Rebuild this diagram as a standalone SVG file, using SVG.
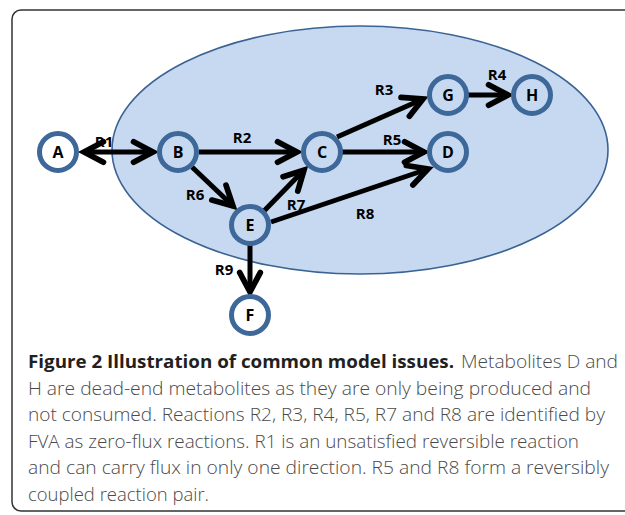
<svg xmlns="http://www.w3.org/2000/svg" width="625" height="515" viewBox="0 0 625 515">
<defs>
<style>
.node circle{stroke:#3d6899;stroke-width:5}
.in circle{fill:#c6d9f0}
.out circle{fill:#ffffff}
.node text{font-family:"Open Sans","Liberation Sans",sans-serif;font-weight:bold;font-size:16px;fill:#000;text-anchor:middle}
.edge{stroke:#000;stroke-width:5;fill:none}
.lbl{font-family:"Open Sans","Liberation Sans",sans-serif;font-weight:bold;font-size:15px;fill:#000;text-anchor:middle}
.cap{font-family:"Open Sans","Liberation Sans",sans-serif;font-size:18px;font-weight:300;fill:#4a4a4a}
.capb{font-family:"Open Sans","Liberation Sans",sans-serif;font-size:18px;font-weight:bold;fill:#231f20}
</style>
<marker id="arr" markerUnits="userSpaceOnUse" orient="auto-start-reverse" refX="0" refY="0" markerWidth="40" markerHeight="40" viewBox="-25 -15 35 30" overflow="visible">
<path d="M -17 -9 L 0 0 L -17 9" fill="none" stroke="#000" stroke-width="5" stroke-linecap="round" stroke-linejoin="miter"/>
</marker>
</defs>
<rect x="12" y="10" width="640" height="501" rx="9" ry="9" fill="#fff" stroke="#333" stroke-width="1.5"/>
<ellipse id="compartment" cx="360" cy="150" rx="248" ry="124" fill="#c6d9f0" stroke="#3a6394" stroke-width="1.6"/>
<g id="connectors">
<line class="edge" x1="84" y1="152" x2="153" y2="152" marker-start="url(#arr)" marker-end="url(#arr)"/>
<line class="edge" x1="199" y1="152" x2="297" y2="152" marker-end="url(#arr)"/>
<line class="edge" x1="192" y1="167" x2="233" y2="206" marker-end="url(#arr)"/>
<line class="edge" x1="264" y1="211" x2="304" y2="170" marker-end="url(#arr)"/>
<line class="edge" x1="271" y1="222" x2="428" y2="169" marker-end="url(#arr)"/>
<line class="edge" x1="337" y1="137" x2="423" y2="99" marker-end="url(#arr)"/>
<line class="edge" x1="342" y1="152" x2="424" y2="152" marker-end="url(#arr)"/>
<line class="edge" x1="468" y1="95" x2="508" y2="95" marker-end="url(#arr)"/>
<line class="edge" x1="250" y1="245" x2="250" y2="292" marker-end="url(#arr)"/>
<text class="lbl" x="104" y="147">R1</text>
<text class="lbl" x="242" y="143">R2</text>
<text class="lbl" x="384" y="95">R3</text>
<text class="lbl" x="497" y="80">R4</text>
<text class="lbl" x="392" y="145">R5</text>
<text class="lbl" x="195" y="200">R6</text>
<text class="lbl" x="296" y="210">R7</text>
<text class="lbl" x="365" y="219">R8</text>
<text class="lbl" x="224" y="275">R9</text>
</g>
<g id="A" class="node out"><circle cx="58" cy="152" r="18.5"/><text x="58" y="158">A</text></g>
<g id="B" class="node in"><circle cx="178" cy="152" r="18.5"/><text x="178" y="158">B</text></g>
<g id="C" class="node in"><circle cx="322" cy="152" r="18.5"/><text x="322" y="158">C</text></g>
<g id="D" class="node in"><circle cx="448" cy="152" r="18.5"/><text x="448" y="158">D</text></g>
<g id="G" class="node in"><circle cx="448" cy="95" r="18.5"/><text x="448" y="101">G</text></g>
<g id="H" class="node in"><circle cx="532" cy="95" r="18.5"/><text x="532" y="101">H</text></g>
<g id="E" class="node in"><circle cx="250" cy="225" r="18.5"/><text x="250" y="231">E</text></g>
<g id="F" class="node out"><circle cx="250" cy="315" r="18.5"/><text x="250" y="321">F</text></g>
<g id="caption">
<text class="capb" x="28" y="368" textLength="426" lengthAdjust="spacingAndGlyphs">Figure 2 Illustration of common model issues.</text>
<text class="cap" x="461" y="368" textLength="157" lengthAdjust="spacingAndGlyphs">Metabolites D and</text>
<text class="cap" x="28" y="394.5" textLength="563" lengthAdjust="spacingAndGlyphs">H are dead-end metabolites as they are only being produced and</text>
<text class="cap" x="28" y="421" textLength="577" lengthAdjust="spacingAndGlyphs">not consumed. Reactions R2, R3, R4, R5, R7 and R8 are identified by</text>
<text class="cap" x="28" y="447.5" textLength="551" lengthAdjust="spacingAndGlyphs">FVA as zero-flux reactions. R1 is an unsatisfied reversible reaction</text>
<text class="cap" x="28" y="474" textLength="581" lengthAdjust="spacingAndGlyphs">and can carry flux in only one direction. R5 and R8 form a reversibly</text>
<text class="cap" x="28" y="500.5" textLength="181" lengthAdjust="spacingAndGlyphs">coupled reaction pair.</text>
</g>
</svg>
